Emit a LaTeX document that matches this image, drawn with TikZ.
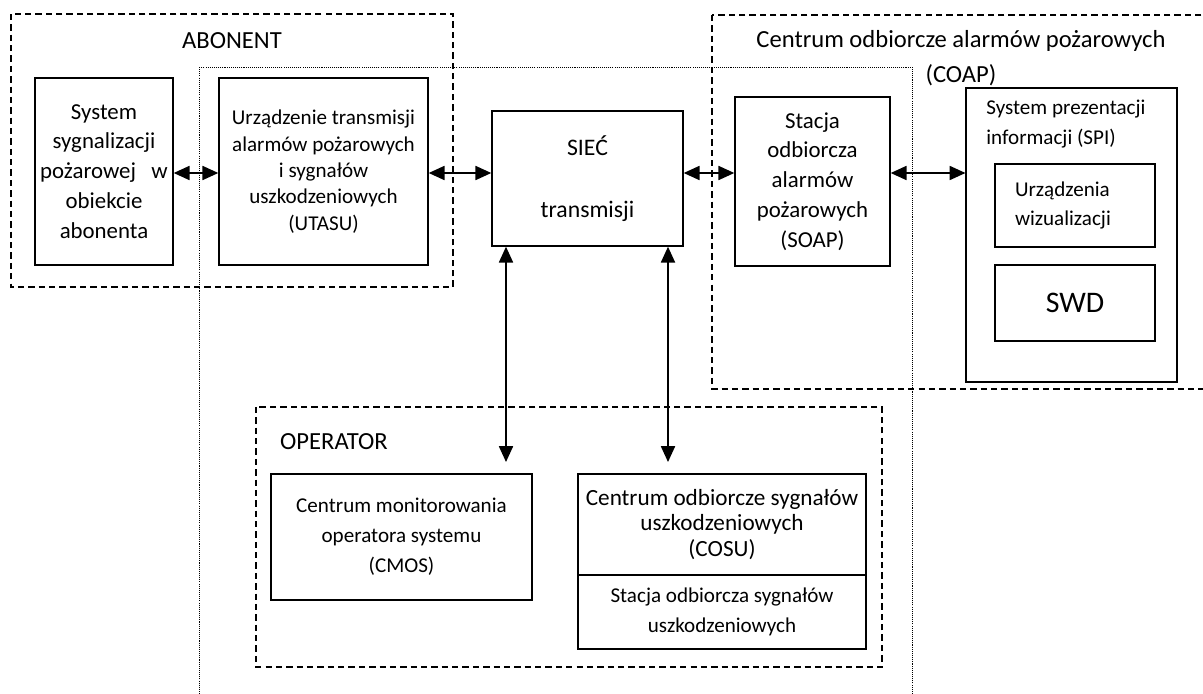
\documentclass[tikz,border=0pt]{standalone}
\usepackage{fontspec}
\setmainfont{Carlito}
\usetikzlibrary{arrows.meta,positioning}

\tikzset{
    blok/.style={draw, line width=0.8pt, align=center, inner sep=2pt,
        font=\fontsize{12}{17}\selectfont},
    cienki/.style={blok, line width=0.6pt},
    ramka/.style={line width=0.9pt, dash pattern=on 3.6pt off 2.3pt},
    siatka/.style={line width=0.35pt, dash pattern=on 0.6pt off 0.6pt},
    strzalka/.style={{Triangle[length=9pt,width=8pt]}-{Triangle[length=9pt,width=8pt]}, line width=0.9pt},
    tytul/.style={font=\fontsize{14}{20}\selectfont, align=center}
}

\begin{document}
\begin{tikzpicture}[x=0.02cm, y=-0.02cm]
        \useasboundingbox (0,0) rectangle (1203,693);

        % Frames of the three parties
        \draw [siatka] (199,67) rectangle (912,705);
        \draw [ramka] (11,14) rectangle (453,287);
        \draw [ramka] (712,15) rectangle (1215,389);
        \draw [ramka] (256,407) rectangle (882,667);

        % Frame titles
        \node [tytul] (abonent) at (232,41) {ABONENT};
        \node [tytul] (coap) at (961,58) {Centrum odbiorcze alarmów pożarowych\\(COAP)};
        \node [anchor=west, font=\fontsize{14}{17}\selectfont] (operator) at (274,442) {OPERATOR};

        % Blocks of the subscriber
        \node [blok, minimum width=138*0.02cm, minimum height=187*0.02cm,
            font=\fontsize{13}{17}\selectfont] (system) at (104,171.5)
            {System\\sygnalizacji\\pożarowej\ \ \ w\\obiekcie\\abonenta};
        \node [blok, minimum width=209*0.02cm, minimum height=187*0.02cm,
            font=\fontsize{12}{15}\selectfont] (utasu) at (323.5,171.5)
            {Urządzenie transmisji\\alarmów pożarowych\\i sygnałów\\uszkodzeniowych\\(UTASU)};

        % Network
        \node [blok, minimum width=191*0.02cm, minimum height=135*0.02cm,
            font=\fontsize{13.5}{17.5}\selectfont] (siec) at (587.5,178.5)
            {SIEĆ\\ \\transmisji};

        % Receiving centre
        \node [blok, minimum width=155*0.02cm, minimum height=169*0.02cm,
            font=\fontsize{13}{17}\selectfont] (soap) at (812.5,181.5)
            {Stacja\\odbiorcza\\alarmów\\pożarowych\\(SOAP)};
        \node [cienki, minimum width=211*0.02cm, minimum height=294*0.02cm] (spi) at (1071.5,235) {};
        \node [anchor=north west, align=left, inner sep=0pt,
            font=\fontsize{12}{17}\selectfont] (spitekst) at (986,100)
            {System prezentacji\\informacji (SPI)};
        \node [cienki, minimum width=160*0.02cm, minimum height=83*0.02cm,
            text width=2.4cm, align=left] (wizual) at (1075,205.5)
            {Urządzenia\\wizualizacji};
        \node [cienki, minimum width=160*0.02cm, minimum height=76*0.02cm,
            font=\fontsize{17}{19}\selectfont] (swd) at (1075,303) {SWD};

        % Operator blocks
        \node [cienki, minimum width=261*0.02cm, minimum height=126*0.02cm] (cmos) at (401.5,537)
            {Centrum monitorowania\\operatora systemu\\(CMOS)};
        \node [cienki, minimum width=288*0.02cm, minimum height=101*0.02cm,
            font=\fontsize{13.2}{14.5}\selectfont] (cosu) at (722,524.5)
            {Centrum odbiorcze sygnałów\\uszkodzeniowych\\(COSU)};
        \node [cienki, minimum width=288*0.02cm, minimum height=74*0.02cm] (sosu) at (722,612)
            {Stacja odbiorcza sygnałów\\uszkodzeniowych};

        % Connections
        \coordinate (wiersz) at (0,173);
        \coordinate (opA) at (506,462);
        \coordinate (opB) at (668,462);
        \draw [strzalka] (system.east |- wiersz) -- (utasu.west |- wiersz);
        \draw [strzalka] (utasu.east |- wiersz) -- (siec.west |- wiersz);
        \draw [strzalka] (siec.east |- wiersz) -- (soap.west |- wiersz);
        \draw [strzalka] (soap.east |- wiersz) -- (spi.west |- wiersz);
        \draw [strzalka] (opA |- siec.south) -- (opA);
        \draw [strzalka] (opB |- siec.south) -- (opB);
    \end{tikzpicture}
\end{document}
